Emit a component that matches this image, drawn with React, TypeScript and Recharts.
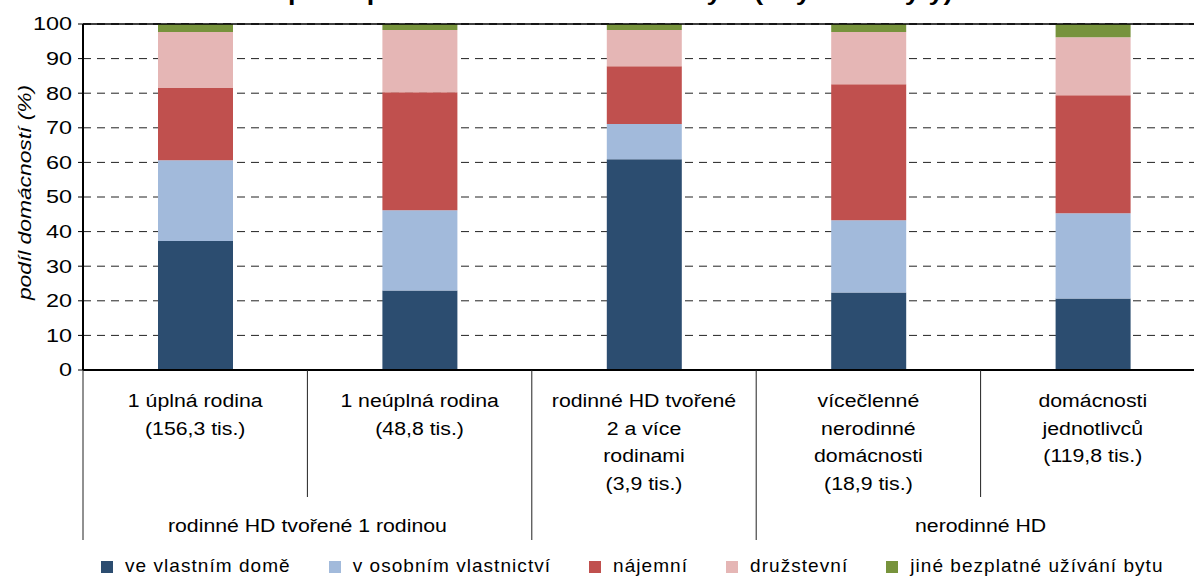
import React from "react"
import {
	BarChart,
	Bar,
	XAxis,
	YAxis,
	CartesianGrid,
	ReferenceLine,
} from "recharts"

// category labels (one entry per line)
const categories: string[][] = [
	["1 úplná rodina", "(156,3 tis.)"],
	["1 neúplná rodina", "(48,8 tis.)"],
	["rodinné HD tvořené", "2 a více", "rodinami", "(3,9 tis.)"],
	["vícečlenné", "nerodinné", "domácnosti", "(18,9 tis.)"],
	["domácnosti", "jednotlivců", "(119,8 tis.)"],
]

// second level of the category axis
const groups = [
	{ label: "rodinné HD tvořené 1 rodinou", start: 0, end: 1 },
	{ label: "", start: 2, end: 2 },
	{ label: "nerodinné HD", start: 3, end: 4 },
]

const seriesNames = [
	"ve vlastním domě",
	"v osobním vlastnictví",
	"nájemní",
	"družstevní",
	"jiné bezplatné užívání bytu",
]
const seriesColors = ["#2C4D70", "#A2BADB", "#C0504E", "#E5B6B5", "#77933C"]

const vlastniDum = [37.3, 23.0, 60.9, 22.4, 20.7]
const osobniVlastnictvi = [23.3, 23.2, 10.2, 20.9, 24.6]
const najemni = [20.9, 34.1, 16.7, 39.3, 34.1]
const druzstevni = [16.2, 18.0, 10.5, 15.1, 16.8]
const jine = [2.3, 1.7, 1.7, 2.3, 3.8]

const yTicks = [0, 10, 20, 30, 40, 50, 60, 70, 80, 90, 100]

const title = "Domácnosti podle právního důvodu užívání bytu (obydlené byty)"
const yTitle = "podíl domácností (%)"

const seriesValues = [vlastniDum, osobniVlastnictvi, najemni, druzstevni, jine]
const seriesKeys = ["s0", "s1", "s2", "s3", "s4"]

const data = categories.map((lines, i) => {
	const row: Record<string, any> = { name: lines.join(" ") }
	seriesKeys.forEach((k, s) => {
		row[k] = seriesValues[s][i]
	})
	return row
})

const FONT = "'Liberation Sans', Arial, sans-serif"
const CHART_W = 1215
const CHART_H = 578
const MARGIN = { top: 24, right: 10, bottom: 0, left: 0 }
const Y_AXIS_W = 83
const X_AXIS_H = 208
const BAND = (CHART_W - MARGIN.right - Y_AXIS_W) / categories.length

const YTick = (props: any) => {
	const { x, y, payload } = props
	return (
		<g transform={`translate(${x},${y}) scale(1.3,1)`}>
			<text textAnchor="end" dy={6.4} fontSize={18} fill="#000" fontFamily={FONT}>
				{payload.value}
			</text>
		</g>
	)
}

const XTick = (props: any) => {
	const { x, y, payload } = props
	const index = payload.index ?? props.index
	const lines = categories[index] || []
	const group = groups.find((g) => g.start === index)
	const groupStart = groups.some((g) => g.start === index)
	const left = x - BAND / 2
	return (
		<g>
			<line x1={left} x2={left} y1={y} y2={y + (groupStart ? 170 : 127)} stroke="#222" strokeWidth={1} />
			{index === categories.length - 1 && (
				<line x1={x + BAND / 2} x2={x + BAND / 2} y1={y} y2={y + 170} stroke="#222" strokeWidth={1} />
			)}
			{lines.map((line, i) => (
				<g key={i} transform={`translate(${x},${y + 37 + i * 27.6}) scale(1.12,1)`}>
					<text textAnchor="middle" fontSize={19} fill="#000" fontFamily={FONT}>
						{line}
					</text>
				</g>
			))}
			{group && group.label && (
				<g transform={`translate(${x + ((group.end - group.start) * BAND) / 2},${y + 161.5}) scale(1.12,1)`}>
					<text textAnchor="middle" fontSize={19} fill="#000" fontFamily={FONT}>
						{group.label}
					</text>
				</g>
			)}
		</g>
	)
}

const YAxisTitle = (props: any) => {
	const vb = props.viewBox || { x: 0, y: 24, width: 83, height: 346 }
	const cy = vb.y + vb.height / 2 - 4.5
	return (
		<g transform={`translate(26,${cy}) rotate(-90) scale(1.2,1)`}>
			<text textAnchor="middle" dy={5} fontSize={19} fontStyle="italic" fill="#000" fontFamily={FONT}>
				{yTitle}
			</text>
		</g>
	)
}

const App = () => {
	return (
		<div
			style={{
				position: "fixed",
				left: 0,
				top: 0,
				width: 1194,
				height: 578,
				overflow: "hidden",
				background: "#fff",
				fontFamily: FONT,
			}}
		>
			<BarChart width={CHART_W} height={CHART_H} data={data} margin={MARGIN}>
				<CartesianGrid horizontal vertical={false} stroke="#222" strokeDasharray="8 6" />
				<XAxis
					dataKey="name"
					height={X_AXIS_H}
					interval={0}
					axisLine={{ stroke: "#000", strokeWidth: 2 }}
					tickLine={false}
					tickSize={0}
					tickMargin={0}
					tick={<XTick />}
				/>
				<YAxis
					width={Y_AXIS_W}
					domain={[0, 100]}
					ticks={yTicks}
					interval={0}
					axisLine={{ stroke: "#000", strokeWidth: 2 }}
					tickLine={{ stroke: "#000" }}
					tickSize={5}
					tickMargin={6}
					tick={<YTick />}
					label={<YAxisTitle />}
				/>
				{seriesKeys.map((k, s) => (
					<Bar
						key={k}
						dataKey={k}
						name={seriesNames[s]}
						stackId="a"
						fill={seriesColors[s]}
						barSize={75}
						isAnimationActive={false}
					/>
				))}
				<ReferenceLine y={100} stroke="#000" strokeWidth={1.5} />
			</BarChart>
			<svg
				width={1194}
				height={20}
				style={{ position: "absolute", left: 0, top: 0, pointerEvents: "none" }}
			>
				<g transform="translate(127,0) scale(1.22,1)">
					<text fontSize={22} fontWeight="bold" fill="#000" fontFamily={FONT}>
						{title}
					</text>
				</g>
			</svg>
			<div
				style={{
					position: "absolute",
					left: 101,
					top: 556,
					display: "flex",
					alignItems: "center",
					fontSize: 19,
					lineHeight: "19px",
					letterSpacing: "1.05px",
					whiteSpace: "nowrap",
				}}
			>
				{seriesNames.map((n, s) => (
					<div key={n} style={{ display: "flex", alignItems: "center", marginRight: 38 }}>
						<span
							style={{
								display: "inline-block",
								width: 12,
								height: 12,
								background: seriesColors[s],
								marginRight: 12,
								position: "relative",
								top: 1,
							}}
						/>
						<span>{n}</span>
					</div>
				))}
			</div>
		</div>
	)
}

export default App
